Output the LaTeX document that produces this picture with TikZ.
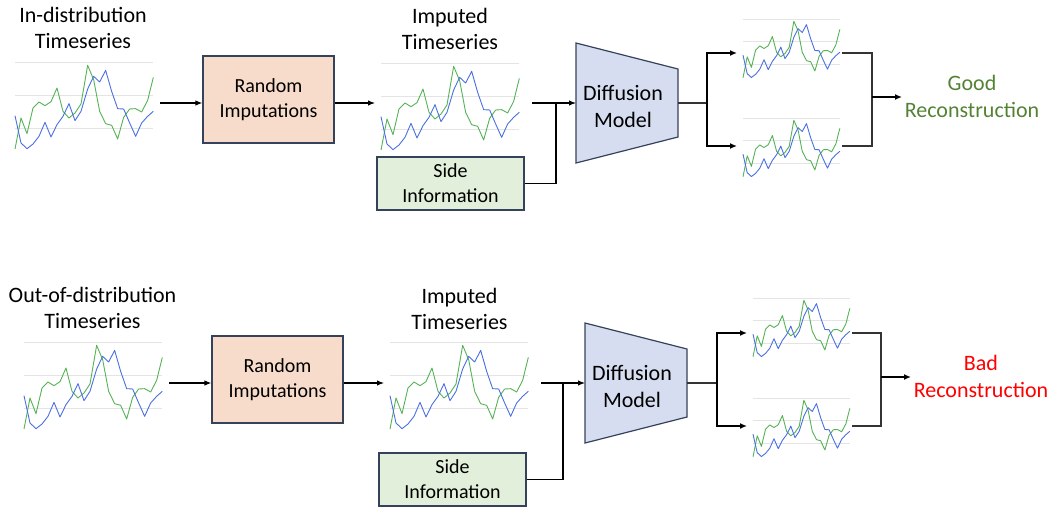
\documentclass[tikz,border=0pt]{standalone}
\usepackage{fontspec}
\setmainfont{Carlito}
\usetikzlibrary{arrows.meta}

\definecolor{peach}{HTML}{F8DCCB}
\definecolor{sidegreen}{HTML}{E2EFDA}
\definecolor{lavender}{HTML}{D6DDF0}
\definecolor{edgecol}{HTML}{35425C}
\definecolor{sergreen}{HTML}{55B255}
\definecolor{serblue}{HTML}{4A70E0}
\definecolor{gridgray}{HTML}{E4E4E4}
\definecolor{goodgreen}{HTML}{548235}
\definecolor{badred}{HTML}{FF0000}
\definecolor{outline}{HTML}{333333}

% one small time-series chart: three grid lines, a green and a blue series
\newcommand{\tsplot}{%
  \draw[gridln] (0,0) -- (415,0) (0,100.5) -- (415,100.5) (0,200) -- (415,200);
  \draw[serg] plot coordinates {(0,261) (18,168) (36,215) (54,138) (72,120)
    (90,131) (108,119) (126,78) (144,148) (162,168) (180,153) (198,126)
    (218,10) (236,53) (254,148) (272,185) (290,190) (308,231) (326,166)
    (344,141) (362,140) (380,150) (398,115) (415,46)};
  \draw[serb] plot coordinates {(0,161) (18,243) (36,260) (54,246) (72,223)
    (90,181) (108,225) (126,188) (144,163) (162,125) (180,176) (198,148)
    (218,81) (236,43) (254,60) (272,25) (290,88) (308,140) (326,141)
    (344,183) (362,223) (380,183) (398,163) (415,148)};
}

\tikzset{
  gridln/.style={gridgray, line width=0.8pt},
  serg/.style={sergreen, line width=0.9pt, line join=round},
  serb/.style={serblue, line width=0.9pt, line join=round},
  bigchart/.style={scale=0.3333},
  smallchart/.style={xscale=0.2333, yscale=0.225},
  titletext/.style={align=center, inner sep=0pt, font=\fontsize{22}{26}\selectfont},
  modeltext/.style={align=center, inner sep=0pt, font=\fontsize{22}{27}\selectfont},
  restext/.style={align=center, inner sep=0pt, font=\fontsize{22}{27}\selectfont},
  procbox/.style={draw=edgecol, line width=1.2pt, fill=peach, align=center,
    minimum width=131pt, minimum height=87pt, inner sep=0pt,
    font=\fontsize{20}{25}\selectfont},
  sidebox/.style={draw=edgecol, line width=1.2pt, fill=sidegreen, align=center,
    minimum width=147pt, minimum height=53pt, inner sep=0pt,
    font=\fontsize{20}{25}\selectfont},
  modelshape/.style={draw=edgecol, line width=1.2pt, fill=lavender, line join=miter},
  conn/.style={black, line width=1.1pt},
  arr/.style={conn, -{Latex[length=7pt,width=5.5pt]}},
  outconn/.style={outline, line width=1.7pt},
  outarr/.style={outconn, -{Latex[length=7pt,width=6pt]}, black},
}

\begin{document}
\begin{tikzpicture}[x=1pt, y=-1pt]
\useasboundingbox (0,0) rectangle (1051,506);

% ---------------- upper row: in-distribution ----------------
\node[titletext] (t1) at (83,28) {In-distribution\\Timeseries};
\begin{scope}[shift={(15,62)}, bigchart] \tsplot \end{scope}
\coordinate (c1out) at (160,103);
\node[procbox] (ri1) at (268.5,99.5) {Random\\Imputations};
\draw[arr] (c1out) -- (ri1.west |- c1out);

\node[titletext] (it1) at (450,29) {Imputed\\Timeseries};
\begin{scope}[shift={(381,63)}, bigchart] \tsplot \end{scope}
\coordinate (im1in) at (375,103);
\draw[arr] (ri1.east |- im1in) -- (im1in);

\node[sidebox] (si1) at (450.5,183.5) {Side\\Information};

\draw[modelshape] (576,43) -- (678,69) -- (678,137) -- (576,163) -- cycle;
\node[modeltext] (dm1) at (623,106) {Diffusion\\Model};
\coordinate (im1out) at (532,103);
\coordinate (dm1in) at (576,103);
\coordinate (dm1out) at (678,103);
\coordinate (j1) at (556,103);
\draw[arr] (im1out) -- (dm1in);
\draw[conn] (si1.east) -| (j1);

\coordinate (j2) at (707,103);
\coordinate (s1ain) at (737,53);
\coordinate (s1bin) at (737,146);
\draw[outconn] (dm1out) -- (j2);
\draw[outarr] (j2) |- (s1ain);
\draw[outarr] (j2) |- (s1bin);

\begin{scope}[shift={(743,19)}, smallchart] \tsplot \end{scope}
\begin{scope}[shift={(743,118)}, smallchart] \tsplot \end{scope}

\coordinate (s1aout) at (842,53);
\coordinate (s1bout) at (842,146);
\coordinate (k1) at (872,97);
\coordinate (k1end) at (902,97);
\draw[outconn] (s1aout) -| (k1) |- (s1bout);
\draw[outarr] (k1) -- (k1end);
\node[restext, text=goodgreen] (good) at (972,96) {Good\\Reconstruction};

% ---------------- lower row: out-of-distribution ----------------
\node[titletext] (t2) at (92.5,308) {Out-of-distribution\\Timeseries};
\begin{scope}[shift={(24,342)}, bigchart] \tsplot \end{scope}
\coordinate (c2out) at (169,383);
\node[procbox] (ri2) at (277.5,379.5) {Random\\Imputations};
\draw[arr] (c2out) -- (ri2.west |- c2out);

\node[titletext] (it2) at (459.5,309) {Imputed\\Timeseries};
\begin{scope}[shift={(390,342)}, bigchart] \tsplot \end{scope}
\coordinate (im2in) at (384,383);
\draw[arr] (ri2.east |- im2in) -- (im2in);

\node[sidebox] (si2) at (452.5,479.5) {Side\\Information};

\draw[modelshape] (585,323) -- (687,349) -- (687,417) -- (585,443) -- cycle;
\node[modeltext] (dm2) at (632,386) {Diffusion\\Model};
\coordinate (im2out) at (541,383);
\coordinate (dm2in) at (585,383);
\coordinate (dm2out) at (687,383);
\coordinate (j3) at (563,383);
\draw[arr] (im2out) -- (dm2in);
\draw[conn] (si2.east) -| (j3);

\coordinate (j4) at (717,383);
\coordinate (s2ain) at (747,333);
\coordinate (s2bin) at (747,426);
\draw[outconn] (dm2out) -- (j4);
\draw[outarr] (j4) |- (s2ain);
\draw[outarr] (j4) |- (s2bin);

\begin{scope}[shift={(753,298)}, smallchart] \tsplot \end{scope}
\begin{scope}[shift={(753,398)}, smallchart] \tsplot \end{scope}

\coordinate (s2aout) at (852,333);
\coordinate (s2bout) at (852,426);
\coordinate (k2) at (881,377);
\coordinate (k2end) at (911,377);
\draw[outconn] (s2aout) -| (k2) |- (s2bout);
\draw[outarr] (k2) -- (k2end);
\node[restext, text=badred] (bad) at (981,376) {Bad\\Reconstruction};
\end{tikzpicture}
\end{document}
